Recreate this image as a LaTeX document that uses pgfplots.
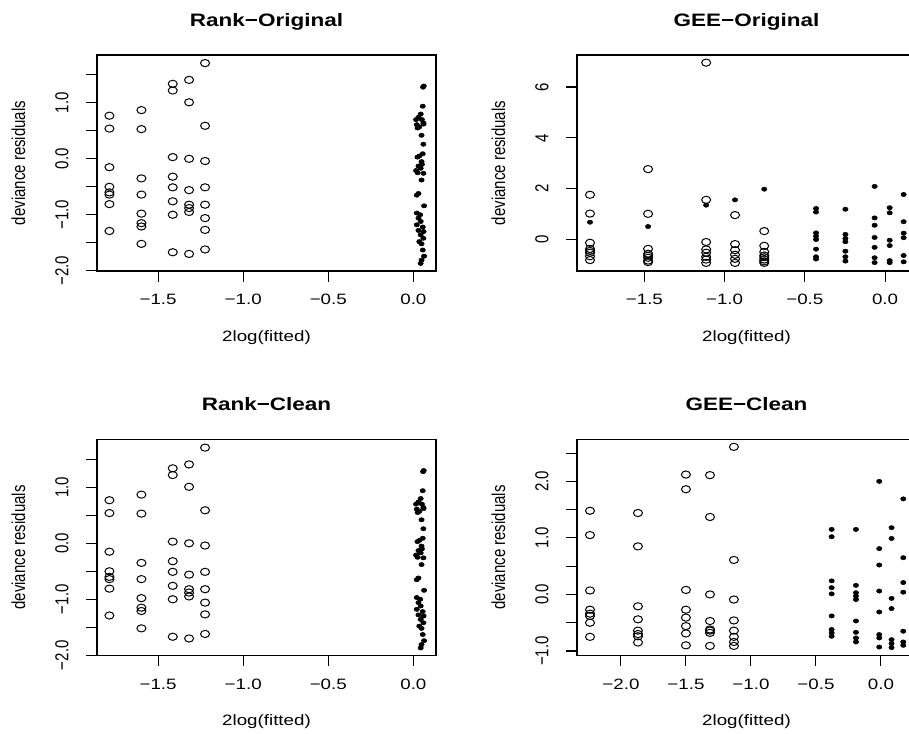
\documentclass[border=0pt]{standalone}
\usepackage{fontspec}
\setmainfont{Liberation Sans}[FakeStretch=1.25]
\newfontfamily\rotfont{Liberation Sans}
\usepackage{graphicx}
\usepackage{pgfplots}
\usepackage{pgfplotstable}
\pgfplotsset{compat=1.18}
\newcommand{\rl}[1]{\scalebox{1}[1.25]{\rotfont #1}}

\pgfplotstableread{
x y
-1.786 0.77
-1.786 0.54
-1.786 -0.15
-1.786 -0.50
-1.786 -0.60
-1.786 -0.64
-1.786 -0.81
-1.786 -1.29
-1.598 0.87
-1.598 0.53
-1.598 -0.35
-1.598 -0.64
-1.598 -0.98
-1.598 -1.15
-1.598 -1.21
-1.598 -1.52
-1.414 1.34
-1.414 1.22
-1.414 0.03
-1.414 -0.32
-1.414 -0.51
-1.414 -0.76
-1.414 -1.00
-1.414 -1.67
-1.318 1.41
-1.318 1.01
-1.318 0.00
-1.318 -0.56
-1.318 -0.82
-1.318 -0.88
-1.318 -0.95
-1.318 -1.70
-1.224 1.71
-1.224 0.59
-1.224 -0.04
-1.224 -0.51
-1.224 -0.82
-1.224 -1.06
-1.224 -1.27
-1.224 -1.62
}\rankopen

\pgfplotstableread{
x y
0.061 1.30
0.057 1.28
0.055 0.94
0.043 0.80
0.030 0.74
0.016 0.70
0.050 0.70
0.059 0.64
0.060 0.62
0.020 0.61
0.035 0.57
0.025 0.55
0.048 0.42
0.059 0.26
0.055 0.09
0.035 0.05
0.024 0.03
0.048 -0.05
0.050 -0.10
0.030 -0.13
0.043 -0.17
0.016 -0.21
0.025 -0.25
0.059 -0.26
0.048 -0.38
0.030 -0.62
0.020 -0.65
0.063 -0.84
0.020 -0.97
0.040 -1.00
0.030 -1.06
0.043 -1.12
0.020 -1.18
0.055 -1.22
0.030 -1.28
0.060 -1.30
0.043 -1.36
0.059 -1.42
0.035 -1.48
0.048 -1.52
0.055 -1.63
0.063 -1.74
0.048 -1.81
0.043 -1.87
}\rankfill

\pgfplotsset{rplot/.style={
  scale only axis, width=254.25pt, height=162pt,
  axis line style={line width=0.8pt},
  every tick/.style={black, line width=0.8pt},
  tick align=outside, major tick length=8pt,
  xtick pos=left, ytick pos=left,
  enlargelimits=false, clip=false,
  tick label style={font=\fontsize{11.25}{13}\selectfont},
  label style={font=\fontsize{11.25}{13}\selectfont},
  xticklabel style={anchor=north, inner sep=0pt},
  xticklabel shift=9.25pt,
  yticklabel style={rotate=90, anchor=base, inner sep=0pt},
  yticklabel shift=13.5pt,
  title style={at={(axis description cs:0.5,1.095)}, anchor=base, inner sep=0pt, font=\fontsize{13.5}{16}\selectfont\bfseries},
  xlabel style={at={(axis description cs:0.5,-0.273)}, anchor=north, inner sep=0pt},
  ylabel style={at={(axis description cs:-0.232,0.5)}, anchor=center, inner sep=0pt},
  xlabel={2log(fitted)}, ylabel={\rl{deviance residuals}},
},
opn/.style={only marks, mark=o, mark size=2.7pt, mark options={xscale=1.25, line width=0.75pt, black}},
fil/.style={only marks, mark=*, mark size=1.6pt, mark options={xscale=1.25, black, fill=black}},
}

\begin{document}
\begin{tikzpicture}
\useasboundingbox (0,0) rectangle (681.75pt,549.75pt);
\clip (0,0) rectangle (681.75pt,549.75pt);

% Rank-Original
\begin{axis}[rplot, at={(72.75pt,346.5pt)}, anchor=south west,
  title={Rank−Original},
  xmin=-1.859, xmax=0.133, ymin=-2.005, ymax=1.855,
  xtick={-1.5,-1,-0.5,0}, xticklabels={−1.5,−1.0,−0.5,0.0},
  ytick={-2,-1.5,-1,-0.5,0,0.5,1,1.5},
  yticklabels={\rl{−2.0},{},\rl{−1.0},{},\rl{0.0},{},\rl{1.0},{}}]
\addplot[opn] table[x=x,y=y] {\rankopen};
\addplot[fil] table[x=x,y=y] {\rankfill};
\end{axis}

% GEE-Original
\begin{axis}[rplot, at={(432.75pt,346.5pt)}, anchor=south west,
  title={GEE−Original},
  xmin=-1.92, xmax=0.193, ymin=-1.24, ymax=7.26,
  xtick={-1.5,-1,-0.5,0}, xticklabels={−1.5,−1.0,−0.5,0.0},
  ytick={0,2,4,6}, yticklabels={\rl{0},\rl{2},\rl{4},\rl{6}}]
\addplot[opn] coordinates {
(-1.839,1.76) (-1.839,1.02) (-1.839,-0.13) (-1.839,-0.37) (-1.839,-0.45) (-1.839,-0.52) (-1.839,-0.66) (-1.839,-0.81)
(-1.477,2.77) (-1.477,1.01) (-1.477,-0.37) (-1.477,-0.56) (-1.477,-0.64) (-1.477,-0.72) (-1.477,-0.83) (-1.477,-0.89)
(-1.115,6.96) (-1.115,1.56) (-1.115,-0.10) (-1.115,-0.39) (-1.115,-0.52) (-1.115,-0.68) (-1.115,-0.79) (-1.115,-0.92)
(-0.935,0.96) (-0.935,-0.18) (-0.935,-0.42) (-0.935,-0.60) (-0.935,-0.76) (-0.935,-0.92)
(-0.753,0.33) (-0.753,-0.25) (-0.753,-0.49) (-0.753,-0.63) (-0.753,-0.70) (-0.753,-0.79) (-0.753,-0.86) (-0.753,-0.92)
};
\addplot[fil] coordinates {
(-1.839,0.68) (-1.477,0.51) (-1.115,1.35) (-0.935,1.56) (-0.753,1.98)
(-0.43,1.22) (-0.43,1.08) (-0.43,0.26) (-0.43,0.13) (-0.43,0.0) (-0.43,-0.38) (-0.43,-0.68) (-0.43,-0.77)
(-0.247,1.19) (-0.247,0.20) (-0.247,0.04) (-0.247,-0.09) (-0.247,-0.46) (-0.247,-0.68) (-0.247,-0.85)
(-0.065,2.09) (-0.065,0.85) (-0.065,0.56) (-0.065,0.08) (-0.065,-0.31) (-0.065,-0.72) (-0.065,-0.91)
(0.029,1.25) (0.029,1.05) (0.029,-0.03) (0.029,-0.24) (0.029,-0.83) (0.029,-0.91)
(0.116,1.77) (0.116,0.70) (0.116,0.25) (0.116,0.07) (0.116,-0.63) (0.116,-0.88)
};
\end{axis}

% Rank-Clean
\begin{axis}[rplot, at={(72.75pt,58.125pt)}, anchor=south west,
  title={Rank−Clean},
  xmin=-1.859, xmax=0.133, ymin=-2.005, ymax=1.855,
  xtick={-1.5,-1,-0.5,0}, xticklabels={−1.5,−1.0,−0.5,0.0},
  ytick={-2,-1.5,-1,-0.5,0,0.5,1,1.5},
  yticklabels={\rl{−2.0},{},\rl{−1.0},{},\rl{0.0},{},\rl{1.0},{}}]
\addplot[opn] table[x=x,y=y] {\rankopen};
\addplot[fil] table[x=x,y=y] {\rankfill};
\end{axis}

% GEE-Clean
\begin{axis}[rplot, at={(432.75pt,58.125pt)}, anchor=south west,
  title={GEE−Clean},
  xmin=-2.338, xmax=0.27, ymin=-1.08, ymax=2.74,
  xtick={-2,-1.5,-1,-0.5,0}, xticklabels={−2.0,−1.5,−1.0,−0.5,0.0},
  ytick={-1,-0.5,0,0.5,1,1.5,2,2.5},
  yticklabels={\rl{−1.0},{},\rl{0.0},{},\rl{1.0},{},\rl{2.0},{}}]
\addplot[opn] coordinates {
(-2.238,1.48) (-2.238,1.05) (-2.238,0.07) (-2.238,-0.27) (-2.238,-0.34) (-2.238,-0.38) (-2.238,-0.50) (-2.238,-0.75)
(-1.869,1.44) (-1.869,0.85) (-1.869,-0.21) (-1.869,-0.44) (-1.869,-0.64) (-1.869,-0.70) (-1.869,-0.74) (-1.869,-0.85)
(-1.5,2.12) (-1.5,1.86) (-1.5,0.08) (-1.5,-0.27) (-1.5,-0.41) (-1.5,-0.56) (-1.5,-0.69) (-1.5,-0.90)
(-1.315,2.11) (-1.315,1.37) (-1.315,0.0) (-1.315,-0.47) (-1.315,-0.62) (-1.315,-0.64) (-1.315,-0.68) (-1.315,-0.91)
(-1.131,2.61) (-1.131,0.61) (-1.131,-0.09) (-1.131,-0.46) (-1.131,-0.64) (-1.131,-0.75) (-1.131,-0.84) (-1.131,-0.91)
};
\addplot[fil] coordinates {
(-0.379,1.15) (-0.379,1.02) (-0.379,0.24) (-0.379,0.12) (-0.379,0.01) (-0.379,-0.38) (-0.379,-0.62) (-0.379,-0.68) (-0.379,-0.74)
(-0.192,1.15) (-0.192,0.16) (-0.192,0.03) (-0.192,-0.03) (-0.192,-0.09) (-0.192,-0.47) (-0.192,-0.67) (-0.192,-0.77) (-0.192,-0.84)
(-0.013,2.0) (-0.013,0.81) (-0.013,0.52) (-0.013,0.06) (-0.013,-0.31) (-0.013,-0.71) (-0.013,-0.77) (-0.013,-0.93)
(0.082,1.18) (0.082,0.99) (0.082,-0.07) (0.082,-0.25) (0.082,-0.80) (0.082,-0.87) (0.082,-0.94)
(0.172,1.69) (0.172,0.65) (0.172,0.21) (0.172,0.04) (0.172,-0.65) (0.172,-0.84) (0.172,-0.90)
};
\end{axis}
\end{tikzpicture}
\end{document}
